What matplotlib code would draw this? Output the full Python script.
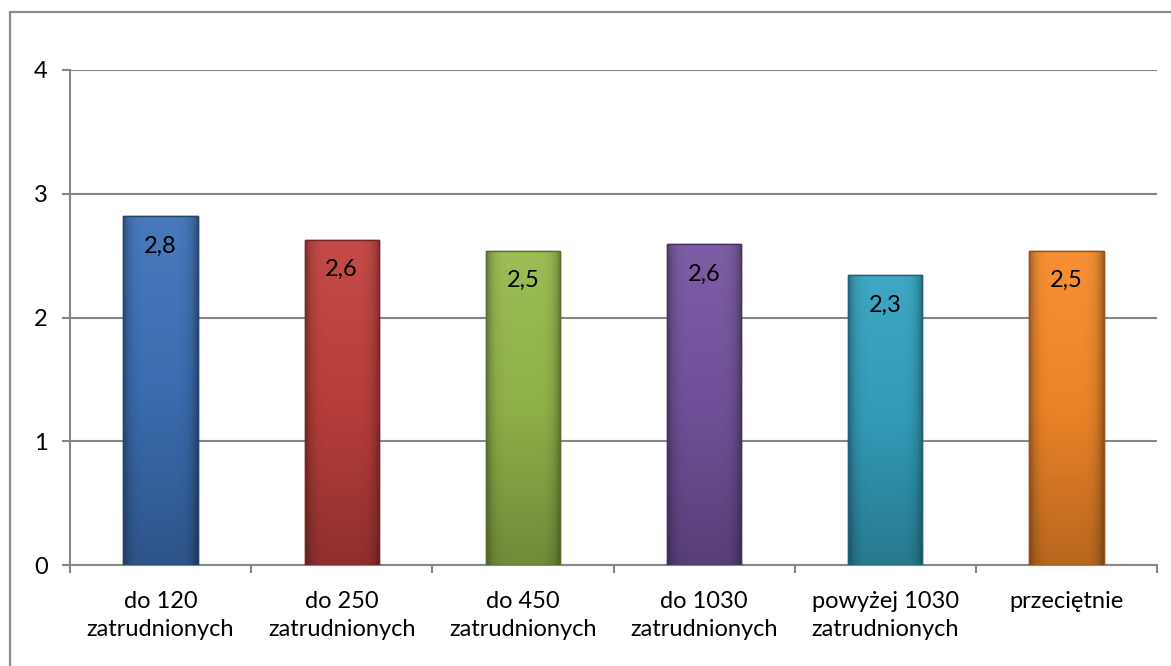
import matplotlib
matplotlib.use("Agg")
import matplotlib.pyplot as plt
import numpy as np
from matplotlib.colors import LinearSegmentedColormap, to_rgb
from matplotlib.patches import Rectangle

categories = ["do 120\nzatrudnionych", "do 250\nzatrudnionych", "do 450\nzatrudnionych",
              "do 1030\nzatrudnionych", "powyżej 1030\nzatrudnionych", "przeciętnie"]
values = [2.82, 2.63, 2.54, 2.59, 2.34, 2.54]
colors = ["#3E72B8", "#C0413E", "#97B94C", "#7654A0", "#35A2C0", "#F78A2A"]
yticks = [0, 1, 2, 3, 4]

plt.rcParams['font.family'] = ['Lato', 'DejaVu Sans']

W, H = 1171, 666
fig = plt.figure(figsize=(W / 100, H / 100), dpi=100)
ax = fig.add_axes([70 / W, (H - 565) / H, (1157 - 70) / W, (565 - 70) / H])

# outer chart border
fig.patches.append(Rectangle((10 / W, -0.1), 1.2, (H - 12) / H + 0.1, transform=fig.transFigure,
                             fill=False, edgecolor="#8c8c8c", lw=1.6, zorder=0))

x = np.arange(len(categories))
bw = 0.41
bars = ax.bar(x, values, width=bw, color=colors, zorder=3)

def shade(c, f):
    r = np.array(to_rgb(c))
    if f >= 1:
        return tuple(r + (1 - r) * (f - 1))
    return tuple(r * f)

for b, c in zip(bars, colors):
    b.set_edgecolor(shade(c, 0.6))
    b.set_linewidth(1.0)
    cmap = LinearSegmentedColormap.from_list("g", [shade(c, 0.75), shade(c, 0.95), shade(c, 1.05)])
    grad = np.linspace(0, 1, 100).reshape(-1, 1)
    xx, yy = b.get_x(), b.get_y()
    im = ax.imshow(grad, extent=(xx, xx + b.get_width(), yy, yy + b.get_height()),
                   origin="lower", cmap=cmap, aspect="auto", zorder=3.5)
    im.set_clip_path(b)
    hgrad = np.abs(np.linspace(-1, 1, 60)).reshape(1, -1) ** 6
    cm2 = LinearSegmentedColormap.from_list("s", [(0, 0, 0, 0), (0, 0, 0, 0.35)])
    im2 = ax.imshow(hgrad, extent=(xx, xx + b.get_width(), yy, yy + b.get_height()),
                    origin="lower", cmap=cm2, aspect="auto", zorder=3.6)
    im2.set_clip_path(b)
    ax.bar(b.get_x() + b.get_width() / 2, b.get_height(), width=b.get_width(),
           facecolor="none", edgecolor=shade(c, 0.6), lw=1.0, zorder=3.7)

for xi, v in zip(x, values):
    ax.annotate(f"{v:.1f}".replace(".", ","), (xi, v), xytext=(0, -30), textcoords="offset pixels",
                ha="center", va="center", fontsize=17, color="black", zorder=5)

ax.set_xlim(-0.5, len(categories) - 0.5)
ax.set_ylim(0, 4)
ax.set_yticks(yticks)
ax.set_yticklabels([str(t) for t in yticks], fontsize=17)
ax.set_xticks(x)
ax.set_xticklabels(categories, fontsize=17, linespacing=1.4)
ax.tick_params(axis="x", length=0, pad=19)
ax.set_xticks(np.arange(-0.5, len(categories)), minor=True)
ax.tick_params(axis="x", which="minor", length=6, color="#868686", width=1.5)
ax.tick_params(axis="y", length=6, color="#868686", width=1.5, pad=10)
ax.yaxis.grid(True, color="#868686", lw=1.5, zorder=1)
ax.set_axisbelow(True)
for s in ["top", "right"]:
    ax.spines[s].set_visible(False)
for s in ["left", "bottom"]:
    ax.spines[s].set_color("#868686")
    ax.spines[s].set_linewidth(1.5)

fig.savefig("out.png", dpi=100)
